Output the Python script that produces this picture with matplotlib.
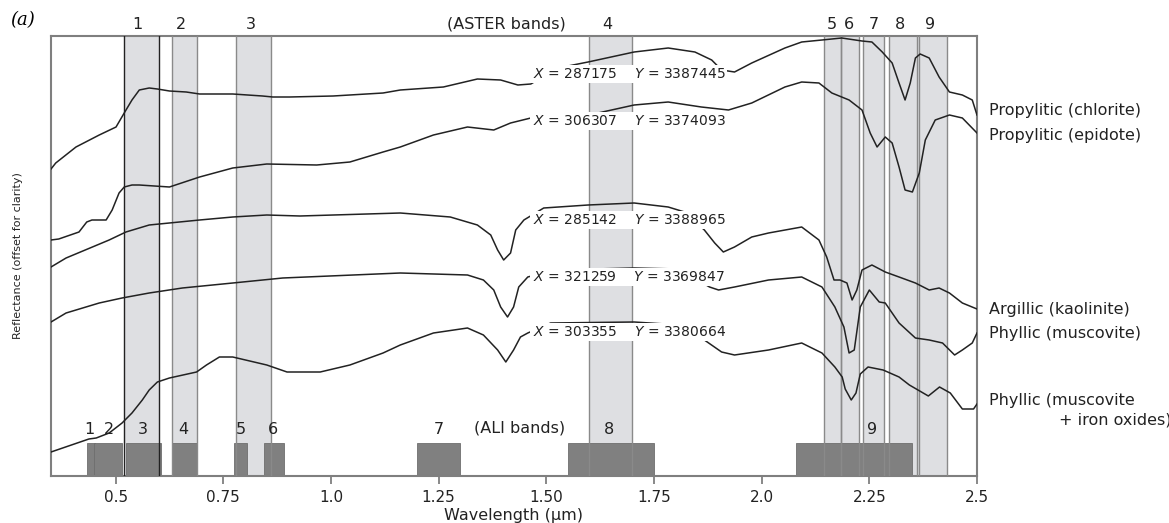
import matplotlib.pyplot as plt

plt.rcParams['font.family'] = ['DejaVu Sans']
plt.rcParams['mathtext.fontset'] = 'dejavusans'

# ASTER bands (um) and ALI bands (um)
aster_bands = [(0.52, 0.60), (0.63, 0.69), (0.78, 0.86), (1.60, 1.70),
               (2.145, 2.185), (2.185, 2.225), (2.235, 2.285), (2.295, 2.365), (2.360, 2.430)]
aster_names = ["1", "2", "3", "4", "5", "6", "7", "8", "9"]
aster_label_x = [0.55, 0.652, 0.815, 1.641, 2.164, 2.203, 2.261, 2.322, 2.392]

ali_bands = [(0.433, 0.453), (0.450, 0.515), (0.525, 0.605), (0.630, 0.690), (0.775, 0.805),
             (0.845, 0.890), (1.20, 1.30), (1.55, 1.75), (2.08, 2.35)]
ali_names = ["1", "2", "3", "4", "5", "6", "7", "8", "9"]
ali_label_x = [0.438, 0.485, 0.564, 0.657, 0.790, 0.866, 1.250, 1.645, 2.257]
ali_height = 0.33

# spectra (wavelength um, reflectance offset for clarity)
chl_w = [0.35, 0.361, 0.408, 0.462, 0.501, 0.520, 0.538, 0.555, 0.578, 0.597, 0.625, 0.664, 0.695,
         0.772, 0.841, 0.865, 0.904, 1.005, 1.121, 1.161, 1.261, 1.340, 1.394, 1.434, 1.464, 1.527,
         1.597, 1.704, 1.783, 1.845, 1.884, 1.907, 1.937, 1.977, 2.054, 2.093, 2.140, 2.186, 2.233,
         2.256, 2.280, 2.303, 2.319, 2.333, 2.345, 2.357, 2.368, 2.389, 2.412, 2.436, 2.466, 2.489, 2.50]
chl_r = [3.07, 3.13, 3.29, 3.41, 3.49, 3.63, 3.76, 3.86, 3.88, 3.87, 3.85, 3.84, 3.82,
         3.82, 3.80, 3.79, 3.79, 3.80, 3.83, 3.86, 3.89, 3.97, 3.96, 3.91, 3.92, 4.08,
         4.14, 4.24, 4.28, 4.24, 4.16, 4.06, 4.04, 4.13, 4.28, 4.34, 4.36, 4.38, 4.35,
         4.34, 4.24, 4.13, 3.93, 3.76, 3.93, 4.18, 4.22, 4.18, 3.99, 3.84, 3.81, 3.76, 3.61]

epi_w = [0.35, 0.368, 0.415, 0.433, 0.445, 0.478, 0.492, 0.508, 0.520, 0.538, 0.555, 0.625, 0.695,
         0.772, 0.851, 0.967, 1.044, 1.121, 1.161, 1.238, 1.317, 1.378, 1.417, 1.464, 1.599, 1.704,
         1.783, 1.860, 1.923, 1.977, 2.054, 2.093, 2.133, 2.163, 2.203, 2.233, 2.252, 2.268, 2.287,
         2.303, 2.319, 2.333, 2.350, 2.366, 2.380, 2.403, 2.436, 2.466, 2.50]
epi_r = [2.36, 2.37, 2.44, 2.54, 2.56, 2.56, 2.66, 2.83, 2.89, 2.91, 2.91, 2.89, 2.99,
         3.08, 3.12, 3.11, 3.14, 3.24, 3.29, 3.41, 3.49, 3.46, 3.53, 3.58, 3.61, 3.71,
         3.74, 3.69, 3.66, 3.73, 3.89, 3.94, 3.93, 3.83, 3.76, 3.66, 3.43, 3.29, 3.39,
         3.33, 3.09, 2.86, 2.84, 3.03, 3.36, 3.56, 3.61, 3.58, 3.43]

kao_w = [0.35, 0.385, 0.485, 0.524, 0.578, 0.695, 0.772, 0.851, 0.928, 1.161, 1.277, 1.340, 1.371,
         1.387, 1.401, 1.417, 1.429, 1.448, 1.494, 1.597, 1.704, 1.783, 1.821, 1.867, 1.891, 1.911,
         1.937, 1.977, 2.016, 2.093, 2.133, 2.151, 2.168, 2.182, 2.198, 2.210, 2.221, 2.233, 2.256,
         2.287, 2.319, 2.357, 2.389, 2.412, 2.436, 2.466, 2.50]
kao_r = [2.09, 2.18, 2.36, 2.44, 2.51, 2.56, 2.59, 2.61, 2.60, 2.63, 2.59, 2.51, 2.41,
         2.26, 2.16, 2.23, 2.46, 2.56, 2.68, 2.71, 2.73, 2.69, 2.64, 2.46, 2.33, 2.24,
         2.29, 2.39, 2.43, 2.49, 2.36, 2.19, 1.96, 1.96, 1.93, 1.76, 1.86, 2.06, 2.11,
         2.04, 1.99, 1.93, 1.86, 1.88, 1.83, 1.73, 1.67]

mus_w = [0.35, 0.385, 0.462, 0.515, 0.578, 0.655, 0.772, 0.888, 1.161, 1.317, 1.354, 1.378, 1.394,
         1.410, 1.424, 1.436, 1.457, 1.518, 1.704, 1.807, 1.879, 1.900, 1.937, 2.016, 2.093, 2.140,
         2.170, 2.191, 2.203, 2.215, 2.229, 2.250, 2.273, 2.287, 2.319, 2.357, 2.389, 2.420, 2.448,
         2.466, 2.489, 2.50]
mus_r = [1.54, 1.63, 1.73, 1.78, 1.83, 1.88, 1.93, 1.98, 2.03, 2.01, 1.96, 1.86, 1.69,
         1.59, 1.69, 1.89, 1.99, 2.06, 2.08, 2.07, 1.89, 1.86, 1.89, 1.96, 1.99, 1.89,
         1.69, 1.49, 1.23, 1.26, 1.69, 1.86, 1.74, 1.73, 1.53, 1.38, 1.36, 1.33, 1.21,
         1.26, 1.33, 1.43]

fe_w = [0.35, 0.438, 0.455, 0.485, 0.515, 0.538, 0.562, 0.578, 0.597, 0.625, 0.688, 0.711, 0.741,
        0.772, 0.851, 0.898, 0.975, 1.044, 1.121, 1.161, 1.238, 1.317, 1.354, 1.387, 1.406, 1.424,
        1.440, 1.457, 1.510, 1.704, 1.813, 1.867, 1.907, 1.937, 2.016, 2.093, 2.140, 2.170, 2.187,
        2.194, 2.208, 2.219, 2.229, 2.247, 2.282, 2.319, 2.343, 2.387, 2.413, 2.438, 2.466, 2.492, 2.50]
fe_r = [0.24, 0.37, 0.38, 0.43, 0.53, 0.63, 0.76, 0.86, 0.94, 0.98, 1.04, 1.11, 1.19,
        1.19, 1.11, 1.04, 1.04, 1.11, 1.23, 1.31, 1.43, 1.48, 1.41, 1.26, 1.14, 1.26,
        1.39, 1.43, 1.53, 1.54, 1.51, 1.36, 1.24, 1.21, 1.26, 1.33, 1.23, 1.09, 0.99,
        0.87, 0.76, 0.83, 1.02, 1.09, 1.06, 0.99, 0.91, 0.80, 0.89, 0.83, 0.67, 0.67, 0.72]

spectra = [(chl_w, chl_r), (epi_w, epi_r), (kao_w, kao_r), (mus_w, mus_r), (fe_w, fe_r)]

# right hand labels
names = ["Propylitic (chlorite)", "Propylitic (epidote)", "Argillic (kaolinite)",
         "Phyllic (muscovite)", "Phyllic (muscovite"]
name_y = [3.66, 3.41, 1.67, 1.43, 0.75]

# sample coordinates
coord_x = ["287175", "306307", "285142", "321259", "303355"]
coord_y = ["3387445", "3374093", "3388965", "3369847", "3380664"]
coord_pos = [4.02, 3.55, 2.56, 1.99, 1.44]

xticks = [0.5, 0.75, 1.0, 1.25, 1.5, 1.75, 2.0, 2.25, 2.5]
xticklabels = ["0.5", "0.75", "1.0", "1.25", "1.50", "1.75", "2.0", "2.25", "2.5"]

fig = plt.figure(figsize=(11.69, 5.23), dpi=100)
ax = fig.add_axes([51 / 1169, 1 - 476 / 523, 926 / 1169, 440 / 523])
ax.set_xlim(0.35, 2.5)
ax.set_ylim(0, 4.40)

# ASTER band shading
for i, (a, b) in enumerate(aster_bands):
    ax.axvspan(a, b, color="#dedfe2", lw=0, zorder=1)
    lc = "#222222" if i == 0 else "#8a8a8a"
    ax.axvline(a, color=lc, lw=1.0, zorder=3)
    ax.axvline(b, color=lc, lw=1.0, zorder=3)
    ax.text(aster_label_x[i], 4.52, aster_names[i], ha="center", va="center", fontsize=11.5, color="#222")
ax.text(1.408, 4.52, "(ASTER bands)", ha="center", va="center", fontsize=11.5, color="#222")

# ALI bands
for i, (a, b) in enumerate(ali_bands):
    ax.bar(a, ali_height, width=b - a, align="edge", color="#808080", edgecolor="#6e6e6e",
           lw=0.6, zorder=2)
    ax.text(ali_label_x[i], 0.46, ali_names[i], ha="center", va="center", fontsize=11.5, color="#222")
ax.text(1.438, 0.48, "(ALI bands)", ha="center", va="center", fontsize=11.5, color="#222")

for w, r in spectra:
    ax.plot(w, r, color="#222222", lw=1.1, zorder=4)

for i in range(len(coord_x)):
    ax.text(1.468, coord_pos[i], r"$X$ = " + coord_x[i] + r"    $Y$ = " + coord_y[i],
            ha="left", va="center", fontsize=10, color="#222", zorder=5,
            bbox=dict(facecolor="white", edgecolor="none", pad=1.5))

for n, y in zip(names, name_y):
    ax.text(2.528, y, n, ha="left", va="center", fontsize=11.5, color="#222")
ax.text(2.69, 0.56, "+ iron oxides)", ha="left", va="center", fontsize=11.5, color="#222")

for s in ax.spines.values():
    s.set_color("#7f7f7f")
    s.set_linewidth(1.5)
ax.set_yticks([])
ax.set_xticks(xticks)
ax.set_xticklabels(xticklabels)
ax.tick_params(axis="x", direction="out", length=6, width=1.3, color="#7f7f7f",
               labelsize=11, pad=4, labelcolor="#222")
ax.set_xlabel("Wavelength (\u03bcm)", fontsize=11.5, color="#222", labelpad=2)
ax.set_ylabel("Reflectance (offset for clarity)", fontsize=8, color="#222", labelpad=20)

fig.text(23 / 1169, 1 - 20 / 523, "(a)", family="DejaVu Serif", style="italic", fontsize=13,
         ha="center", va="center")

fig.savefig("out.png", dpi=100)
